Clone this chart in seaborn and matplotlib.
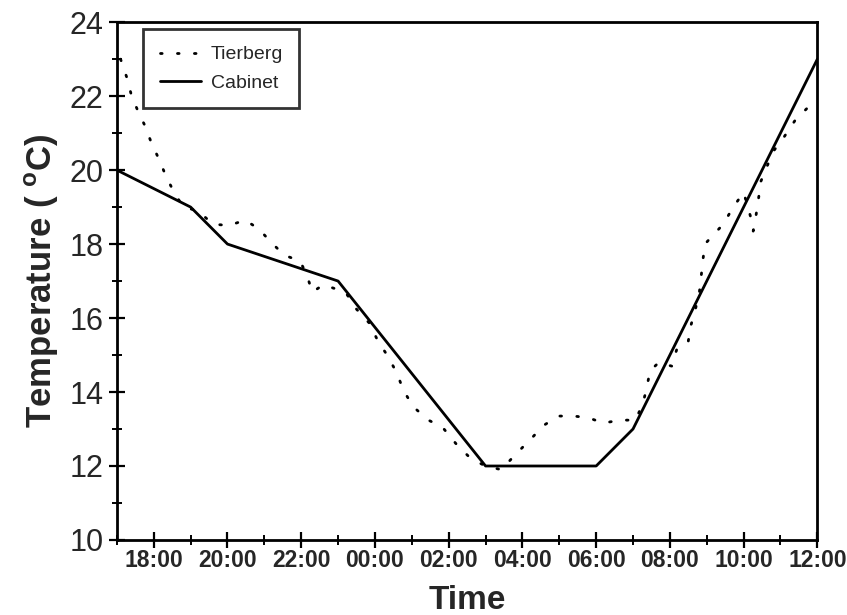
import matplotlib
matplotlib.use("Agg")
from matplotlib import pyplot as plt
from matplotlib.ticker import MultipleLocator
import seaborn as sns
import pandas as pd

# hours since midnight of day 1 (24 = 00:00 next day)
cabinet_hours = [17, 19, 20, 23, 27, 30, 31, 36]
cabinet_temp = [20.0, 19.0, 18.0, 17.0, 12.0, 12.0, 13.0, 23.0]

tierberg_hours = [17.1, 17.27, 17.4, 17.57, 17.76, 17.95, 18.14, 18.33, 18.55, 18.8,
                  19.2, 19.6, 20.04, 20.48, 20.86, 21.18, 21.54, 21.97, 22.16, 22.3,
                  22.6, 23.2, 23.5, 23.85, 24.07, 24.36, 24.6, 24.77, 25.04, 25.45,
                  25.83, 26.2, 26.6, 27.0, 27.43, 27.8, 28.2, 28.58, 28.98, 29.4,
                  29.8, 30.2, 30.64, 31.07, 31.27, 31.37, 31.46, 31.7, 32.05, 32.2,
                  32.5, 32.57, 32.7, 32.8, 32.85, 32.9, 32.95, 33.2, 33.45, 33.7,
                  34.0, 34.2, 34.26, 34.34, 34.4, 34.47, 34.8, 35.1, 35.4, 35.75]
tierberg_temp = [23.0, 22.5, 22.0, 21.6, 21.2, 20.7, 20.3, 19.84, 19.4, 19.0,
                 18.9, 18.54, 18.5, 18.65, 18.4, 18.05, 17.7, 17.54, 17.14, 16.7,
                 16.9, 16.7, 16.24, 15.86, 15.4, 14.95, 14.5, 14.05, 13.6, 13.24,
                 13.05, 12.6, 12.2, 12.0, 11.9, 12.3, 12.7, 13.1, 13.35, 13.35,
                 13.3, 13.16, 13.24, 13.24, 13.7, 14.1, 14.57, 14.8, 14.7, 15.2,
                 15.38, 15.8, 16.27, 16.7, 17.14, 17.6, 18.0, 18.27, 18.54, 18.97,
                 19.4, 18.7, 18.35, 18.8, 19.2, 19.7, 20.5, 20.9, 21.35, 21.7]

tick_hours = [18, 20, 22, 24, 26, 28, 30, 32, 34, 36]
tick_labels = ["18:00", "20:00", "22:00", "00:00", "02:00", "04:00",
               "06:00", "08:00", "10:00", "12:00"]

sns.set_style("ticks")
plt.rcParams["font.family"] = ["Liberation Sans", "DejaVu Sans"]
plt.rcParams["mathtext.fontset"] = "custom"
plt.rcParams["mathtext.rm"] = "Liberation Sans:bold"
plt.rcParams["mathtext.bf"] = "Liberation Sans:bold"

tier = pd.DataFrame({"hour": tierberg_hours, "temp": tierberg_temp})
cab = pd.DataFrame({"hour": cabinet_hours, "temp": cabinet_temp})

fig, ax = plt.subplots(figsize=(8.47, 6.15), dpi=100)
fig.subplots_adjust(left=0.138, right=0.965, top=0.964, bottom=0.122)

sns.lineplot(data=tier, x="hour", y="temp", ax=ax, color="black", lw=2,
             linestyle=(0, (0.6, 5.5)), dash_capstyle="round", label="Tierberg",
             sort=False)
sns.lineplot(data=cab, x="hour", y="temp", ax=ax, color="black", lw=2,
             label="Cabinet", sort=False)

ax.set_xlim(17, 36)
ax.set_ylim(10, 24)
ax.set_xticks(tick_hours)
ax.set_xticklabels(tick_labels, fontsize=16.5, fontweight="bold")
ax.xaxis.set_minor_locator(MultipleLocator(1))
ax.yaxis.set_major_locator(MultipleLocator(2))
ax.yaxis.set_minor_locator(MultipleLocator(1))
ax.tick_params(axis="y", labelsize=22, pad=4)
ax.tick_params(which="major", direction="inout", length=11.5, width=1.6, color="black")
ax.tick_params(which="minor", direction="inout", length=7.5, width=1.4, color="black")
ax.tick_params(axis="x", pad=1)

for s in ax.spines.values():
    s.set_linewidth(2.0)
    s.set_color("black")

ax.set_xlabel("Time", fontsize=24, fontweight="bold", labelpad=9)
ax.set_ylabel(r"Temperature ( $^{\mathrm{o}}$C)", fontsize=25, fontweight="bold", labelpad=6)

leg = ax.legend(loc="upper left", bbox_to_anchor=(0.024, 1.005), fontsize=14,
                frameon=True, fancybox=False, handlelength=2.1, handletextpad=0.5,
                borderpad=0.85, labelspacing=0.55, borderaxespad=0.5)
leg.get_frame().set_edgecolor("black")
leg.get_frame().set_linewidth(2.0)

plt.savefig("out.png", dpi=100)
